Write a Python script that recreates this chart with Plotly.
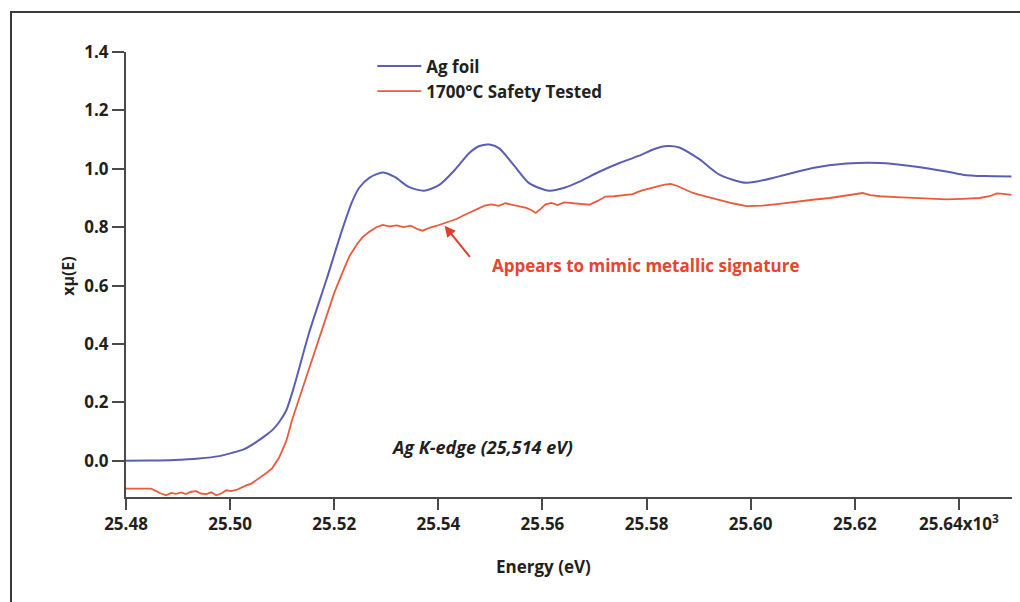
import plotly.graph_objects as go

# ---- data (energy in keV, normalized absorption) ----
ag_foil_energy = [25.4800, 25.4844, 25.4892, 25.4940, 25.4979, 25.5004, 25.5027, 25.5050,
                  25.5069, 25.5081, 25.5094, 25.5108, 25.5123, 25.5152, 25.5185, 25.5216,
                  25.5235, 25.5248, 25.5268, 25.5293, 25.5316, 25.5344, 25.5373, 25.5402,
                  25.5431, 25.5460, 25.5479, 25.5498, 25.5517, 25.5546, 25.5575, 25.5613,
                  25.5642, 25.5671, 25.5709, 25.5748, 25.5786, 25.5815, 25.5840, 25.5863,
                  25.5902, 25.5940, 25.5992, 25.6055, 25.6119, 25.6184, 25.6248, 25.6311,
                  25.6376, 25.6407, 25.6449, 25.6501]
ag_foil_mu = [0.000, 0.001, 0.003, 0.008, 0.016, 0.027, 0.040, 0.064,
              0.088, 0.105, 0.132, 0.173, 0.255, 0.440, 0.620, 0.795,
              0.890, 0.935, 0.970, 0.987, 0.972, 0.937, 0.925, 0.945,
              0.995, 1.055, 1.078, 1.083, 1.070, 1.010, 0.950, 0.925,
              0.935, 0.956, 0.990, 1.020, 1.045, 1.068, 1.078, 1.073,
              1.032, 0.980, 0.952, 0.974, 1.003, 1.018, 1.020, 1.009,
              0.991, 0.980, 0.975, 0.974]

tested_energy = [25.4800, 25.4825, 25.4848, 25.4858, 25.4867, 25.4877, 25.4887, 25.4896,
                 25.4906, 25.4915, 25.4925, 25.4935, 25.4944, 25.4954, 25.4964, 25.4973,
                 25.4983, 25.4993, 25.5002, 25.5012, 25.5021, 25.5031, 25.5041, 25.5050,
                 25.5062, 25.5071, 25.5081, 25.5094, 25.5108, 25.5119, 25.5133, 25.5152,
                 25.5167, 25.5185, 25.5200, 25.5216, 25.5229, 25.5243, 25.5254, 25.5268,
                 25.5281, 25.5293, 25.5306, 25.5320, 25.5333, 25.5347, 25.5360, 25.5370,
                 25.5383, 25.5397, 25.5408, 25.5422, 25.5435, 25.5448, 25.5462, 25.5475,
                 25.5489, 25.5502, 25.5516, 25.5529, 25.5543, 25.5556, 25.5569, 25.5579,
                 25.5587, 25.5596, 25.5606, 25.5617, 25.5629, 25.5642, 25.5657, 25.5673,
                 25.5690, 25.5706, 25.5721, 25.5738, 25.5756, 25.5773, 25.5790, 25.5806,
                 25.5821, 25.5835, 25.5846, 25.5858, 25.5873, 25.5888, 25.5902, 25.5921,
                 25.5940, 25.5965, 25.5992, 25.6023, 25.6055, 25.6088, 25.6119, 25.6152,
                 25.6184, 25.6200, 25.6215, 25.6230, 25.6248, 25.6280, 25.6311, 25.6344,
                 25.6376, 25.6407, 25.6440, 25.6459, 25.6473, 25.6486, 25.6501]
tested_mu = [-0.095, -0.096, -0.095, -0.104, -0.112, -0.118, -0.110, -0.113,
             -0.108, -0.114, -0.106, -0.104, -0.112, -0.114, -0.108, -0.118,
             -0.112, -0.101, -0.104, -0.100, -0.092, -0.084, -0.078, -0.067,
             -0.052, -0.040, -0.025, 0.010, 0.068, 0.140, 0.215, 0.315,
             0.400, 0.490, 0.575, 0.645, 0.700, 0.740, 0.765, 0.785,
             0.800, 0.808, 0.803, 0.806, 0.800, 0.805, 0.793, 0.788,
             0.798, 0.805, 0.812, 0.820, 0.828, 0.840, 0.852, 0.862,
             0.874, 0.878, 0.873, 0.882, 0.876, 0.872, 0.866, 0.858,
             0.849, 0.862, 0.878, 0.883, 0.876, 0.885, 0.882, 0.880,
             0.877, 0.890, 0.905, 0.906, 0.909, 0.913, 0.925, 0.934,
             0.940, 0.946, 0.948, 0.942, 0.930, 0.918, 0.911, 0.902,
             0.895, 0.882, 0.872, 0.874, 0.880, 0.888, 0.894, 0.900,
             0.908, 0.914, 0.917, 0.910, 0.906, 0.903, 0.900, 0.897,
             0.895, 0.897, 0.900, 0.906, 0.916, 0.914, 0.911]

x_tick_vals = [25.48, 25.50, 25.52, 25.54, 25.56, 25.58, 25.60, 25.62, 25.64]
x_tick_text = ["25.48", "25.50", "25.52", "25.54", "25.56", "25.58", "25.60", "25.62",
               "25.64x10<sup>3</sup>"]
y_tick_vals = [0.0, 0.2, 0.4, 0.6, 0.8, 1.0, 1.2, 1.4]
y_tick_text = ["0.0", "0.2", "0.4", "0.6", "0.8", "1.0", "1.2", "1.4"]

series_names = ["Ag foil", "1700°C Safety Tested"]

FONT = "Open Sans"
BLUE = "#5a5fb3"
RED = "#ec5a3c"
TXT = "#231f20"

fig = go.Figure()
fig.add_trace(go.Scatter(x=ag_foil_energy, y=ag_foil_mu, mode="lines", name=series_names[0],
                         line=dict(color=BLUE, width=2, shape="spline", smoothing=0.7)))
fig.add_trace(go.Scatter(x=tested_energy, y=tested_mu, mode="lines", name=series_names[1],
                         line=dict(color=RED, width=1.8)))

fig.update_layout(
    width=1020, height=602,
    margin=dict(l=126, r=8, t=52, b=105),
    paper_bgcolor="white", plot_bgcolor="white",
    font=dict(family=FONT, size=17, color=TXT),
    showlegend=True,
    legend=dict(x=0.278, y=1.008, xanchor="left", yanchor="top",
                bgcolor="rgba(0,0,0,0)", itemwidth=44,
                font=dict(family=FONT, size=17, color=TXT, weight="bold"),
                tracegroupgap=0),
    xaxis=dict(range=[25.48, 25.6502], tickvals=x_tick_vals, ticktext=x_tick_text,
               showgrid=False, zeroline=False, showline=True, linecolor="#4a4a4a",
               linewidth=2, ticks="outside", ticklen=11, tickwidth=2, tickcolor="#4a4a4a",
               tickfont=dict(family=FONT, size=17, color=TXT, weight="bold")),
    yaxis=dict(range=[-0.124, 1.4], tickvals=y_tick_vals, ticktext=y_tick_text,
               showgrid=False, zeroline=False, showline=True, linecolor="#4a4a4a",
               linewidth=2, ticks="outside", ticklen=12, tickwidth=2, tickcolor="#4a4a4a",
               tickfont=dict(family=FONT, size=17, color=TXT, weight="bold")),
)

# outer frame (top and left edges visible)
fig.add_shape(type="rect", xref="paper", yref="paper",
              x0=-0.1298, x1=1.05, y0=-0.4, y1=1.0899,
              line=dict(color="#3a3a3a", width=2), fillcolor="rgba(0,0,0,0)", layer="above")

# axis titles
fig.add_annotation(text="<b>Energy (eV)</b>", xref="paper", yref="paper",
                   x=0.4707, y=-0.1865, showarrow=False,
                   font=dict(family=FONT, size=17, color=TXT))
fig.add_annotation(text="<b>xμ(E)</b>", xref="paper", yref="paper",
                   x=-0.0801, y=0.497, showarrow=False, textangle=-90,
                   font=dict(family=FONT, size=16, color=TXT))

# in-plot labels
fig.add_annotation(text="<b><i>Ag K-edge (25,514 eV)</i></b>", xref="x", yref="y",
                   x=25.5484, y=0.047, showarrow=False,
                   font=dict(family=FONT, size=18, color=TXT))
fig.add_annotation(text="<b>Appears to mimic metallic signature</b>", xref="x", yref="y",
                   x=25.5500, y=0.668, xanchor="left", showarrow=False,
                   font=dict(family=FONT, size=17, color="#e8452c"))
fig.add_annotation(x=25.5412, y=0.805, ax=25.5463, ay=0.693, axref="x", ayref="y",
                   xref="x", yref="y", text="", showarrow=True, arrowhead=2,
                   arrowsize=1.1, arrowwidth=2, arrowcolor="#e0402a")

fig.write_html("out.html")
